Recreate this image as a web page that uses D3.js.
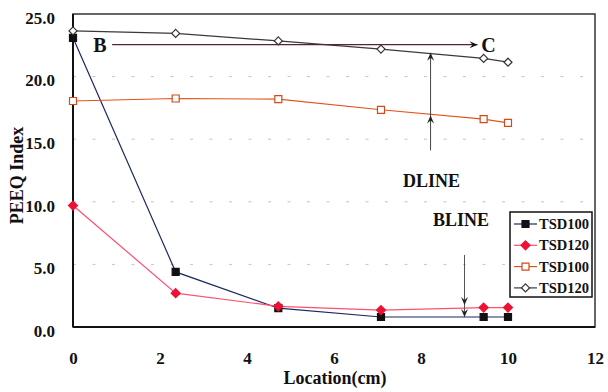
<!DOCTYPE html>
<html>
<head>
<meta charset="utf-8">
<script src="https://cdn.jsdelivr.net/npm/d3@7"></script>
<style>
  html, body { margin: 0; padding: 0; background: #fff; }
  svg { display: block; }
</style>
</head>
<body>
<svg id="chart" width="608" height="392"></svg>
<script>
// Measurement locations along the line (cm)
const locations = [0, 2.36, 4.72, 7.08, 9.44, 10];

// PEEQ index for each series
const bTsd100 = [23.1, 4.4, 1.5, 0.8, 0.8, 0.8];
const bTsd120 = [9.7, 2.7, 1.65, 1.35, 1.55, 1.55];
const dTsd100 = [18.05, 18.25, 18.2, 17.35, 16.6, 16.3];
const dTsd120 = [23.65, 23.45, 22.85, 22.2, 21.45, 21.15];

const seriesNames = ["TSD100", "TSD120", "TSD100", "TSD120"];
const xTicks = [0, 2, 4, 6, 8, 10, 12];
const yTicks = [0, 5, 10, 15, 20, 25];

const FONT = "Liberation Serif, Tinos, Times New Roman, Times, DejaVu Serif, serif";

const W = 608, H = 392;
const margin = { top: 14, right: 13, bottom: 65, left: 73 };
const svg = d3.select("#chart")
  .attr("font-family", FONT)
  .attr("font-weight", "bold");

const x = d3.scaleLinear().domain([0, 12]).range([margin.left, W - margin.right]);
const y = d3.scaleLinear().domain([0, 25]).range([H - margin.bottom, margin.top]);

// dashed horizontal gridlines
svg.append("g")
  .selectAll("line")
  .data(yTicks.filter(v => v > 0 && v < 25))
  .join("line")
  .attr("x1", x(0)).attr("x2", x(12))
  .attr("y1", d => y(d)).attr("y2", d => y(d))
  .attr("stroke", "#c4c4c4")
  .attr("stroke-width", 1)
  .attr("stroke-dasharray", "3,16.5");

function styleText(sel, size) {
  sel.attr("font-size", size)
    .attr("font-family", FONT)
    .attr("font-weight", "bold")
    .attr("fill", "#111");
}

// axes (labels only, no tick marks)
const yAxis = d3.axisLeft(y).tickValues(yTicks).tickSize(0).tickPadding(18).tickFormat(d3.format(".1f"));
const gy = svg.append("g").attr("transform", `translate(${margin.left},0)`).call(yAxis);
gy.attr("font-family", FONT);
gy.select(".domain").remove();
styleText(gy.selectAll("text").attr("dy", "0.55em"), 17);

const xAxis = d3.axisBottom(x).tickValues(xTicks).tickSize(0).tickPadding(25).tickFormat(d3.format("d"));
const gx = svg.append("g").attr("transform", `translate(0,${H - margin.bottom})`).call(xAxis);
gx.attr("font-family", FONT);
gx.select(".domain").remove();
styleText(gx.selectAll("text"), 17);

// plot frame
svg.append("rect")
  .attr("x", x(0)).attr("y", y(25))
  .attr("width", x(12) - x(0)).attr("height", y(0) - y(25))
  .attr("fill", "none").attr("stroke", "#333").attr("stroke-width", 1.5);
svg.append("line").attr("x1", x(0)).attr("x2", x(0)).attr("y1", y(25)).attr("y2", y(0))
  .attr("stroke", "#111").attr("stroke-width", 2);
svg.append("line").attr("x1", x(0)).attr("x2", x(12)).attr("y1", y(0)).attr("y2", y(0))
  .attr("stroke", "#111").attr("stroke-width", 2);

// axis titles
styleText(svg.append("text")
  .attr("transform", `translate(23,${(y(0) + y(25)) / 2 + 5}) rotate(-90)`)
  .attr("text-anchor", "middle")
  .text("PEEQ Index"), 18);
styleText(svg.append("text")
  .attr("x", (x(0) + x(12)) / 2 + 1).attr("y", 384)
  .attr("text-anchor", "middle")
  .text("Location(cm)"), 18);

// series styles
const series = [
  { name: seriesNames[0], values: bTsd100, line: "#1d2760", marker: "square", fill: "#111", stroke: "#111", size: 7 },
  { name: seriesNames[1], values: bTsd120, line: "#ff4f72", marker: "diamond", fill: "#ee1133", stroke: "#ee1133", size: 9 },
  { name: seriesNames[2], values: dTsd100, line: "#e2541c", marker: "square", fill: "#fff", stroke: "#d24a18", size: 7 },
  { name: seriesNames[3], values: dTsd120, line: "#3a3a3a", marker: "diamond", fill: "#fff", stroke: "#333", size: 8 }
];

function markerPath(type, s) {
  const h = s / 2;
  if (type === "square") return `M${-h},${-h}H${h}V${h}H${-h}Z`;
  return `M0,${-h}L${h},0L0,${h}L${-h},0Z`;
}

const lineGen = d3.line().x(d => x(d[0])).y(d => y(d[1]));

series.forEach(s => {
  const pts = locations.map((l, i) => [l, s.values[i]]);
  svg.append("path").datum(pts)
    .attr("d", lineGen).attr("fill", "none")
    .attr("stroke", s.line).attr("stroke-width", 1.2);
  svg.append("g").selectAll("path").data(pts).join("path")
    .attr("transform", d => `translate(${x(d[0])},${y(d[1])})`)
    .attr("d", markerPath(s.marker, s.size))
    .attr("fill", s.fill).attr("stroke", s.stroke).attr("stroke-width", 1.2);
});

// arrowhead pointing along direction (dx, dy) with tip at (px, py)
function arrowHead(px, py, dx, dy, color) {
  const len = Math.hypot(dx, dy), ux = dx / len, uy = dy / len;
  const L = 8, Wd = 3.5, notch = 5;
  const bx = px - ux * L, by = py - uy * L;
  const nx = px - ux * notch, ny = py - uy * notch;
  const p = `M${px},${py}L${bx - uy * Wd},${by + ux * Wd}L${nx},${ny}L${bx + uy * Wd},${by - ux * Wd}Z`;
  svg.append("path").attr("d", p).attr("fill", color);
}

// B -> C horizontal arrow
const bcY = 22.55, bStart = 0.9, cEnd = 9.3;
svg.append("line").attr("x1", x(bStart)).attr("x2", x(cEnd)).attr("y1", y(bcY)).attr("y2", y(bcY))
  .attr("stroke", "#5a2238").attr("stroke-width", 1.3);
arrowHead(x(cEnd), y(bcY), 1, 0, "#111");
styleText(svg.append("text").attr("x", x(0.62)).attr("y", y(bcY) + 7).attr("text-anchor", "middle").text("B"), 20);
styleText(svg.append("text").attr("x", x(9.55)).attr("y", y(bcY) + 7).attr("text-anchor", "middle").text("C"), 20);

// DLINE vertical arrow
const dX = 8.22, dBottom = 14.1, dMid = 16.9, dTop = 21.9;
svg.append("line").attr("x1", x(dX)).attr("x2", x(dX)).attr("y1", y(dBottom)).attr("y2", y(dTop))
  .attr("stroke", "#444").attr("stroke-width", 1);
arrowHead(x(dX), y(dTop), 0, -1, "#222");
arrowHead(x(dX), y(dMid), 0, -1, "#222");
styleText(svg.append("text").attr("x", x(dX) + 1).attr("y", 187).attr("text-anchor", "middle").text("DLINE"), 18);

// BLINE vertical arrow
const bX = 9.0, bTop = 5.75, bMid = 1.75, bBottom = 0.8;
svg.append("line").attr("x1", x(bX)).attr("x2", x(bX)).attr("y1", y(bTop)).attr("y2", y(bBottom))
  .attr("stroke", "#555").attr("stroke-width", 1);
arrowHead(x(bX), y(bMid), 0, 1, "#222");
arrowHead(x(bX), y(bBottom), 0, 1, "#222");
styleText(svg.append("text").attr("x", 461).attr("y", 226).attr("text-anchor", "middle").text("BLINE"), 18);

// legend
const lg = svg.append("g").attr("transform", "translate(510,212)");
lg.append("rect").attr("width", 82).attr("height", 85)
  .attr("fill", "#fff").attr("stroke", "#111").attr("stroke-width", 1.5);
series.forEach((s, i) => {
  const cy = 12 + i * 21.3;
  lg.append("line").attr("x1", 4).attr("x2", 27).attr("y1", cy).attr("y2", cy)
    .attr("stroke", s.line).attr("stroke-width", 1.2);
  lg.append("path").attr("transform", `translate(15.5,${cy})`)
    .attr("d", markerPath(s.marker, s.size))
    .attr("fill", s.fill).attr("stroke", s.stroke).attr("stroke-width", 1.2);
  styleText(lg.append("text").attr("x", 29).attr("y", cy + 5).text(s.name), 14.5);
});
</script>
</body>
</html>
